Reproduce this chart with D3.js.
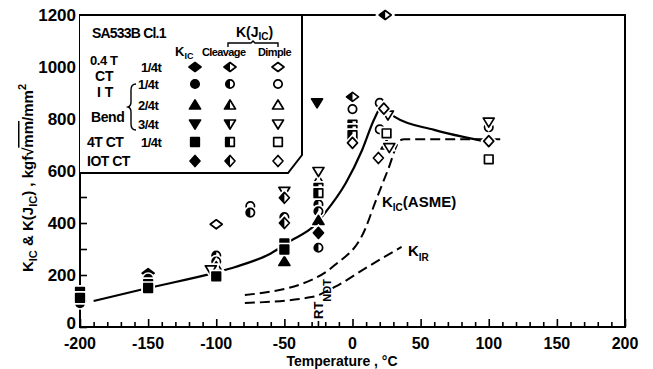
<!DOCTYPE html>
<html>
<head>
<meta charset="utf-8">
<script src="https://cdn.jsdelivr.net/npm/d3@7"></script>
<style>
  body { margin: 0; background: #fff; }
  text { font-family: "Liberation Sans", Arial, sans-serif; fill: #000; }
</style>
</head>
<body>
<svg id="chart" width="653" height="369"></svg>
<script>
// points: [temperature degC, toughness kgf/mm^1.5, kind]  K = K_IC, C = cleavage, D = dimple
const ct04 = [[-200, 118, 'K'], [-150, 207, 'K'], [-100, 395, 'D'], [0, 885, 'C'], [24, 1200, 'C']];
const bend14 = [[-200, 92, 'K'], [-150, 185, 'K'], [-100, 275, 'C'], [-100, 252, 'C'], [-75, 465, 'D'],
  [-75, 440, 'C'], [-50, 423, 'C'], [-25, 472, 'C'], [-25, 445, 'C'], [-25, 305, 'C'],
  [0, 838, 'D'], [20, 862, 'D'], [20, 760, 'D'], [100, 768, 'D']];
const bend24 = [[-100, 232, 'C'], [-50, 252, 'K'], [-25, 410, 'K'], [-25, 565, 'D'], [25, 700, 'D']];
const bend34 = [[-104, 220, 'D'], [-50, 522, 'D'], [-25, 598, 'D'], [-26, 862, 'K'], [26, 815, 'D'],
  [27, 690, 'D'], [100, 788, 'D']];
const ct4 = [[-200, 135, 'K'], [-200, 112, 'K'], [-150, 165, 'K'], [-150, 150, 'K'], [-100, 195, 'K'],
  [-50, 322, 'K'], [-50, 298, 'K'], [-25, 535, 'C'], [-25, 515, 'C'], [0, 778, 'C'], [0, 758, 'C'],
  [0, 738, 'C'], [25, 745, 'D'], [100, 645, 'D']];
const ct10 = [[-50, 497, 'C'], [-50, 400, 'C'], [-25, 362, 'K'], [0, 708, 'D'], [19, 650, 'D'],
  [23, 840, 'D'], [100, 715, 'D']];

// curves
const meanCurve = [[-190, 100], [-150, 150], [-100, 210], [-86, 231], [-60, 283], [-46, 330], [-28, 390],
  [-20, 440], [-5, 553], [7, 680], [16, 800], [22, 852], [31, 808], [60, 758], [96, 715]];
const asmeCurve = [[-79, 123], [-30, 181], [-13, 238], [9, 373], [16.5, 477], [26, 604], [35, 718],
  [38, 722], [112, 722]];
const kirCurve = [[-79, 92], [-30, 115], [-13, 154], [11, 231], [36, 308]];

const xTicks = [-200, -150, -100, -50, 0, 50, 100, 150, 200];
const yTicks = [0, 200, 400, 600, 800, 1000, 1200];
const rtNdt = -25;

const svg = d3.select('#chart');
const x = d3.scaleLinear().domain([-200, 200]).range([80, 625]);
const y = d3.scaleLinear().domain([0, 1200]).range([327, 15]);

// clip for the half filled (cleavage) marks
svg.append('defs').append('clipPath').attr('id', 'lefthalf')
  .append('rect').attr('x', -10).attr('y', -10).attr('width', 10).attr('height', 20);

const shapes = {
  diamondW: [[0, -4.5], [6, 0], [0, 4.5], [-6, 0]],
  diamond: [[0, -5.5], [5, 0], [0, 5.5], [-5, 0]],
  circle: null,
  triUp: [[0, -5], [5.5, 4], [-5.5, 4]],
  triDown: [[0, 5], [5.5, -4], [-5.5, -4]],
  square: [[-4.3, -4.3], [4.3, -4.3], [4.3, 4.3], [-4.3, 4.3]]
};

function addShape(g, shape) {
  if (shape === 'circle') return g.append('circle').attr('r', 4.2);
  return g.append('polygon').attr('points', shapes[shape].map(p => p.join(',')).join(' '));
}

function mark(parent, shape, kind, px, py, halo) {
  let g = parent.append('g').attr('transform', `translate(${px},${py})`);
  if (halo) addShape(g, shape).attr('fill', '#fff').attr('stroke', '#fff').attr('stroke-width', 5);
  addShape(g, shape).attr('stroke', '#000').attr('stroke-width', 1.7)
    .attr('stroke-linejoin', 'round')
    .attr('fill', kind === 'K' ? '#000' : '#fff');
  if (kind === 'C') addShape(g, shape).attr('fill', '#000').attr('clip-path', 'url(#lefthalf)');
}

// frame
svg.append('path').attr('d', `M${x(-200)},${y(0)} V${y(1200)} H${x(200)} V${y(0)} Z`)
  .attr('fill', 'none').attr('stroke', '#000').attr('stroke-width', 2);

// x ticks
let xAxis = svg.append('g').attr('transform', `translate(0,${y(0)})`);
xAxis.call(d3.axisBottom(x).tickValues(d3.range(-200, 201, 10)).tickSize(-5).tickFormat(''));
xAxis.call(g => g.selectAll('.tick').filter(d => d % 50 === 0).select('line').attr('y2', -8));
xAxis.select('.domain').remove();
xAxis.selectAll('line').attr('stroke', '#000').attr('stroke-width', 1.6);

svg.append('g').selectAll('text').data(xTicks).join('text')
  .attr('x', d => x(d)).attr('y', 349).attr('text-anchor', 'middle')
  .attr('font-size', 16).attr('font-weight', 'bold').text(d => d);

// y ticks
let yAxis = svg.append('g').attr('transform', `translate(${x(-200)},0)`);
yAxis.call(d3.axisLeft(y).tickValues(d3.range(0, 1201, 100)).tickSize(-7).tickFormat(''));
yAxis.select('.domain').remove();
yAxis.selectAll('line').attr('stroke', '#000').attr('stroke-width', 1.6);

svg.append('g').selectAll('text').data(yTicks).join('text')
  .attr('x', 76).attr('y', d => y(d) + (d === 0 ? 2 : 6)).attr('text-anchor', 'end')
  .attr('font-size', 17).attr('font-weight', 'bold').text(d => d);

// axis titles
let yl = svg.append('text').attr('transform', 'translate(33,178) rotate(-90)')
  .attr('text-anchor', 'middle').attr('font-size', 15).attr('font-weight', 'bold');
yl.append('tspan').text('K');
yl.append('tspan').attr('font-size', 11).attr('dy', 4).text('IC');
yl.append('tspan').attr('dy', -4).text(' & K(J');
yl.append('tspan').attr('font-size', 11).attr('dy', 4).text('IC');
yl.append('tspan').attr('dy', -4).text(') , kgf√');
yl.append('tspan').attr('text-decoration', 'overline').text('mm');
yl.append('tspan').text('/mm');
yl.append('tspan').attr('font-size', 11).attr('dy', -7).text('2');

svg.append('text').attr('x', 342).attr('y', 366).attr('text-anchor', 'middle')
  .attr('font-size', 14).attr('font-weight', 'bold').text('Temperature , °C');

// curves
let line = d3.line().x(d => x(d[0])).y(d => y(d[1])).curve(d3.curveMonotoneX);
svg.append('path').attr('d', line(meanCurve))
  .attr('fill', 'none').attr('stroke', '#000').attr('stroke-width', 2.2);
svg.append('path').attr('d', line(asmeCurve))
  .attr('fill', 'none').attr('stroke', '#000').attr('stroke-width', 2).attr('stroke-dasharray', '10,5');
svg.append('path').attr('d', line(kirCurve))
  .attr('fill', 'none').attr('stroke', '#000').attr('stroke-width', 2).attr('stroke-dasharray', '10,5');

let asme = svg.append('text').attr('x', 382).attr('y', 207).attr('font-size', 15).attr('font-weight', 'bold');
asme.append('tspan').text('K');
asme.append('tspan').attr('font-size', 10).attr('dy', 4).text('IC');
asme.append('tspan').attr('dy', -4).text('(ASME)');
let kir = svg.append('text').attr('x', 408).attr('y', 256).attr('font-size', 15).attr('font-weight', 'bold');
kir.append('tspan').text('K');
kir.append('tspan').attr('font-size', 10).attr('dy', 5).text('IR');

// RT_NDT marker
svg.append('line').attr('x1', x(rtNdt)).attr('x2', x(rtNdt)).attr('y1', y(0)).attr('y2', y(0) - 6)
  .attr('stroke', '#000').attr('stroke-width', 1.6);
let rt = svg.append('text').attr('transform', `translate(${x(rtNdt) + 5},319) rotate(-90)`)
  .attr('font-size', 13).attr('font-weight', 'bold');
rt.append('tspan').text('RT');
rt.append('tspan').attr('font-size', 11).attr('dy', 8).text('NDT');

// data marks
const groups = [
  { data: ct04, shape: 'diamondW' }, { data: bend14, shape: 'circle' }, { data: bend24, shape: 'triUp' },
  { data: bend34, shape: 'triDown' }, { data: ct4, shape: 'square' }, { data: ct10, shape: 'diamond' }
];
let marks = svg.append('g');
groups.forEach(gr => gr.data.forEach(d => mark(marks, gr.shape, d[2], x(d[0]), y(d[1]), true)));

// legend
svg.append('path').attr('d', 'M80,15 H302 V155 L288,173 H80')
  .attr('fill', '#fff').attr('stroke', '#000').attr('stroke-width', 2);
let lg = svg.append('g').attr('font-weight', 'bold');
lg.append('text').attr('x', 92).attr('y', 38).attr('font-size', 14).attr('letter-spacing', -0.8).text('SA533B Cl.1');
let kj = lg.append('text').attr('x', 236).attr('y', 37).attr('font-size', 14);
kj.append('tspan').text('K(J');
kj.append('tspan').attr('font-size', 10).attr('dy', 3).text('IC');
kj.append('tspan').attr('dy', -3).text(')');
lg.append('path').attr('d', 'M228,47 V43 H251 L253,41 L255,43 H278 V47')
  .attr('fill', 'none').attr('stroke', '#000').attr('stroke-width', 1.4);
let kic = lg.append('text').attr('x', 175).attr('y', 56).attr('font-size', 13);
kic.append('tspan').text('K');
kic.append('tspan').attr('font-size', 9).attr('dy', 3).text('IC');
lg.append('text').attr('x', 202).attr('y', 56).attr('font-size', 11).attr('letter-spacing', -0.6).text('Cleavage');
lg.append('text').attr('x', 258).attr('y', 56).attr('font-size', 11).attr('letter-spacing', -0.6).text('Dimple');

const legendRows = [
  { y: 67, shape: 'diamondW', t: '1/4t' }, { y: 84, shape: 'circle', t: '1/4t' },
  { y: 105, shape: 'triUp', t: '2/4t' }, { y: 124, shape: 'triDown', t: '3/4t' },
  { y: 142, shape: 'square', t: '1/4t' }, { y: 161, shape: 'diamond', t: '' }
];
const legendCols = [['K', 195], ['C', 230], ['D', 278]];
legendRows.forEach(r => {
  legendCols.forEach(c => mark(lg, r.shape, c[0], c[1], r.y, false));
  if (r.t) lg.append('text').attr('x', r.y === 67 || r.y === 142 ? 141 : 138).attr('y', r.y + 5)
    .attr('font-size', 13).attr('letter-spacing', -0.5).text(r.t);
});
lg.append('text').attr('x', 90).attr('y', 65).attr('font-size', 13).attr('letter-spacing', -0.4).text('0.4 T');
lg.append('text').attr('x', 95).attr('y', 81).attr('font-size', 14).text('CT');
lg.append('text').attr('x', 97).attr('y', 97).attr('font-size', 14).text('I T');
lg.append('text').attr('x', 91).attr('y', 122).attr('font-size', 14).attr('letter-spacing', -0.4).text('Bend');
lg.append('path').attr('d', 'M136,84 Q131,84 131,90 V102 Q131,106 128,107 Q131,108 131,112 V124 Q131,130 136,130')
  .attr('fill', 'none').attr('stroke', '#000').attr('stroke-width', 1.4);
lg.append('text').attr('x', 87).attr('y', 147).attr('font-size', 14).attr('letter-spacing', -0.5).text('4T CT');
lg.append('text').attr('x', 87).attr('y', 166).attr('font-size', 14).attr('letter-spacing', -0.5).text('IOT CT');
</script>
</body>
</html>
